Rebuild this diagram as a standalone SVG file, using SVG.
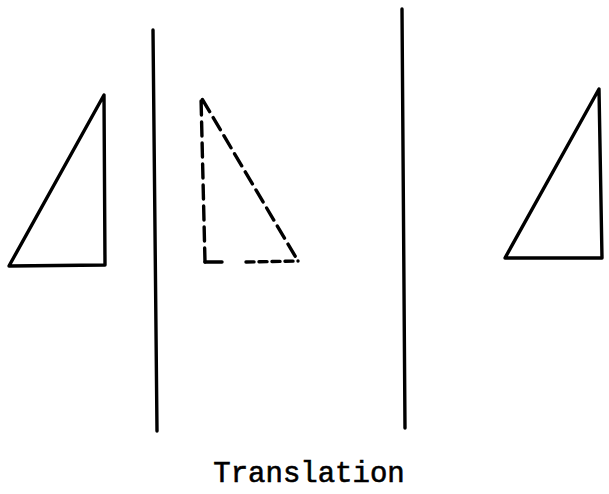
<svg xmlns="http://www.w3.org/2000/svg" width="609" height="494" viewBox="0 0 609 494">
<style>
.ln{fill:none;stroke:#000;stroke-width:3.4;stroke-linejoin:round;stroke-linecap:round}
.dash{stroke-dasharray:14 7}
.lbl{font-family:"Liberation Mono","Courier New",monospace;font-size:29px;fill:#000;stroke:#000;stroke-width:0.6}
</style>
<rect width="609" height="494" fill="#fff"/>
<g id="mirror-lines">
<line class="ln" x1="153" y1="30" x2="157" y2="431"/>
<line class="ln" x1="402" y1="9" x2="405" y2="428"/>
</g>
<g id="triangle-original">
<polygon class="ln" points="104,95 105,265 9,266"/>
</g>
<g id="triangle-reflected">
<polyline class="ln dash" points="205,262 201,97 298,261"/>
<polyline class="ln" points="205,262 222,262"/>
<polyline class="ln dash" points="246,262 298,261" style="stroke-dasharray:8 5"/>
</g>
<g id="triangle-translated">
<polygon class="ln" points="599,89 602,258 505,258"/>
</g>
<g id="label">
<text class="lbl" x="309" y="482" text-anchor="middle">Translation</text>
</g>
</svg>
